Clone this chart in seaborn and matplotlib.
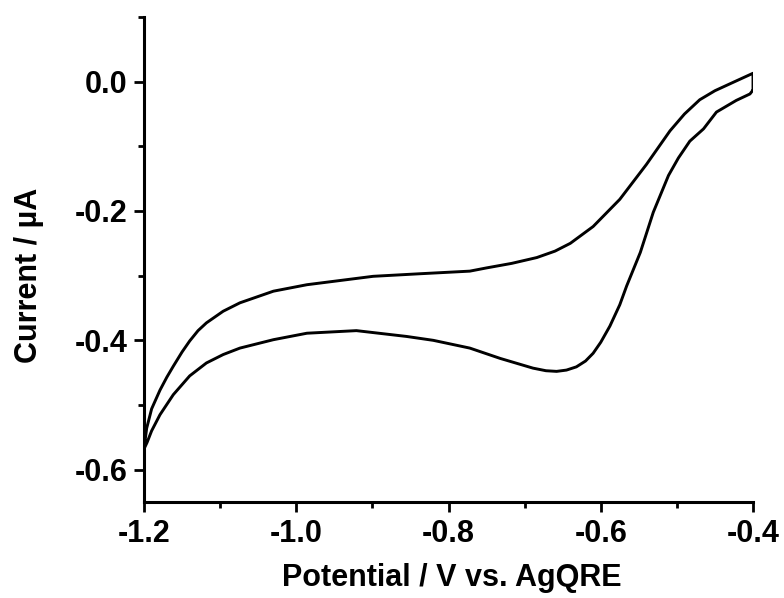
import numpy as np
import pandas as pd
import matplotlib
matplotlib.use("Agg")
import matplotlib.pyplot as plt
from matplotlib.ticker import MultipleLocator
import seaborn as sns

# Cathodic (forward) scan: -0.4 V -> -1.2 V
forward_potential = [-0.400, -0.404, -0.422, -0.448, -0.465, -0.483, -0.498, -0.511,
                     -0.531, -0.548, -0.566, -0.575, -0.588, -0.600, -0.610, -0.620,
                     -0.632, -0.645, -0.658, -0.672, -0.689, -0.732, -0.772, -0.820,
                     -0.855, -0.921, -0.986, -1.030, -1.074, -1.096, -1.118, -1.140,
                     -1.1615, -1.179, -1.190, -1.196, -1.200]
forward_current = [-0.013, -0.019, -0.029, -0.047, -0.073, -0.092, -0.118, -0.145,
                   -0.202, -0.264, -0.316, -0.345, -0.378, -0.403, -0.420, -0.432,
                   -0.441, -0.446, -0.448, -0.447, -0.443, -0.428, -0.412, -0.400,
                   -0.394, -0.385, -0.389, -0.399, -0.412, -0.422, -0.435, -0.455,
                   -0.484, -0.515, -0.540, -0.558, -0.568]

# Anodic (reverse) scan: -1.2 V -> -0.4 V
reverse_potential = [-1.200, -1.1965, -1.190, -1.179, -1.170, -1.1615, -1.150, -1.140,
                     -1.129, -1.118, -1.096, -1.074, -1.030, -0.986, -0.899, -0.837,
                     -0.772, -0.750, -0.717, -0.684, -0.660, -0.640, -0.610, -0.575,
                     -0.540, -0.509, -0.490, -0.470, -0.450, -0.426, -0.400, -0.400]
reverse_current = [-0.568, -0.536, -0.506, -0.477, -0.457, -0.440, -0.418, -0.401,
                   -0.385, -0.373, -0.355, -0.342, -0.324, -0.314, -0.301, -0.297,
                   -0.293, -0.288, -0.281, -0.272, -0.262, -0.250, -0.224, -0.182,
                   -0.128, -0.076, -0.050, -0.028, -0.014, -0.001, 0.013, -0.013]

x_ticks = [-1.2, -1.0, -0.8, -0.6, -0.4]
y_ticks = [0.0, -0.2, -0.4, -0.6]

df = pd.DataFrame({
    "Potential": forward_potential + reverse_potential,
    "Current": forward_current + reverse_current,
})

sns.set_theme(style="ticks")
plt.rcParams["font.family"] = ["Liberation Sans", "DejaVu Sans"]
plt.rcParams["font.weight"] = "bold"
plt.rcParams["text.color"] = "black"
plt.rcParams["axes.labelcolor"] = "black"
plt.rcParams["xtick.color"] = "black"
plt.rcParams["ytick.color"] = "black"

fig = plt.figure(figsize=(7.84, 5.98), dpi=100)
ax = fig.add_axes([144 / 784, 1 - 502 / 598, (753 - 144) / 784, (502 - 17) / 598])

sns.lineplot(data=df, x="Potential", y="Current", sort=False, estimator=None,
             color="black", linewidth=2.1, ax=ax)
for line in ax.get_lines():
    line.set_solid_joinstyle("round")

ax.set_xlim(-1.2, -0.4)
ax.set_ylim(-0.65, 0.1)
ax.set_xticks(x_ticks)
ax.set_yticks(y_ticks)
ax.xaxis.set_minor_locator(MultipleLocator(0.1))
ax.yaxis.set_minor_locator(MultipleLocator(0.1))
ax.set_xticklabels([f"{v:.1f}" for v in x_ticks])
ax.set_yticklabels([f"{v:.1f}" for v in y_ticks])

for s in ["top", "right"]:
    ax.spines[s].set_visible(False)
for s in ["left", "bottom"]:
    ax.spines[s].set_linewidth(2.2)
    ax.spines[s].set_color("black")

ax.tick_params(axis="both", which="major", direction="out", length=7, width=2,
               labelsize=22, pad=5, color="black", labelcolor="black")
ax.tick_params(axis="both", which="minor", direction="out", length=4, width=2,
               color="black")
for lab in ax.get_xticklabels() + ax.get_yticklabels():
    lab.set_fontweight("bold")

ax.set_xlabel("Potential / V vs. AgQRE", fontsize=22, fontweight="bold", color="black")
ax.set_ylabel("Current / \u00b5A", fontsize=22, fontweight="bold", color="black")
ax.xaxis.set_label_coords(0.505, -0.126)
ax.yaxis.set_label_coords(-0.165, 0.468)

fig.savefig("out.png", dpi=100, facecolor="white")
